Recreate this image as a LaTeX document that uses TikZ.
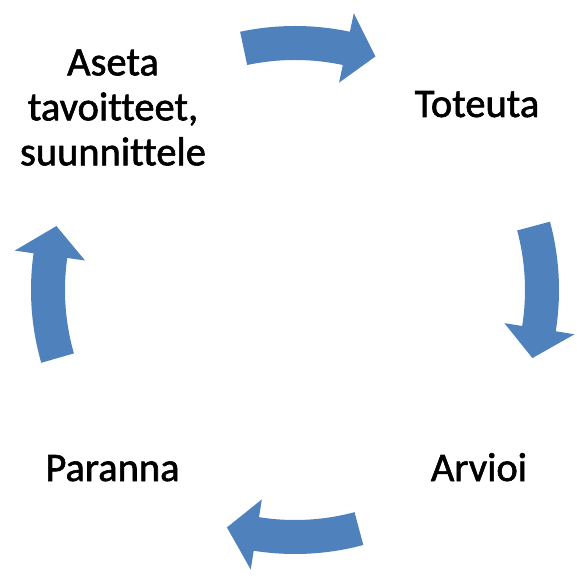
\documentclass[tikz,border=0pt]{standalone}
\usepackage{fontspec}
\setmainfont{Carlito}[Ligatures=NoCommon,FakeBold=1.5]
\definecolor{cycleblue}{HTML}{4F81BD}

\begin{document}
\begin{tikzpicture}[x=1pt,y=1pt,
                    every node/.style={inner sep=0pt,text=black}]
  \tikzstyle{phase}=[font=\fontsize{40.5}{45}\selectfont,align=center]
  \tikzstyle{cycle arrow}=[fill=cycleblue,draw=none]
  \useasboundingbox (-295,-293) rectangle (281,290);

  \node[phase]               (Aseta)   at (-182,182.5) {Aseta\\tavoitteet,\\suunnittele};
  \node[phase,anchor=base]   (Toteuta) at (182,173)    {Toteuta};
  \node[phase,anchor=base]   (Arvioi)  at (184,-191)   {Arvioi};
  \node[phase,anchor=base]   (Paranna) at (-182.5,-191) {Paranna};

  % block arrows of the cycle, clockwise
  \foreach \a in {87,0,-90,181}
    \path[cycle arrow] (\a+15:264) arc[start angle=\a+15,end angle=\a-9,radius=264]
      -- (\a-9:283) -- (\a-16:247) -- (\a-9:212) -- (\a-9:230)
      arc[start angle=\a-9,end angle=\a+15,radius=230] -- cycle;
\end{tikzpicture}
\end{document}
